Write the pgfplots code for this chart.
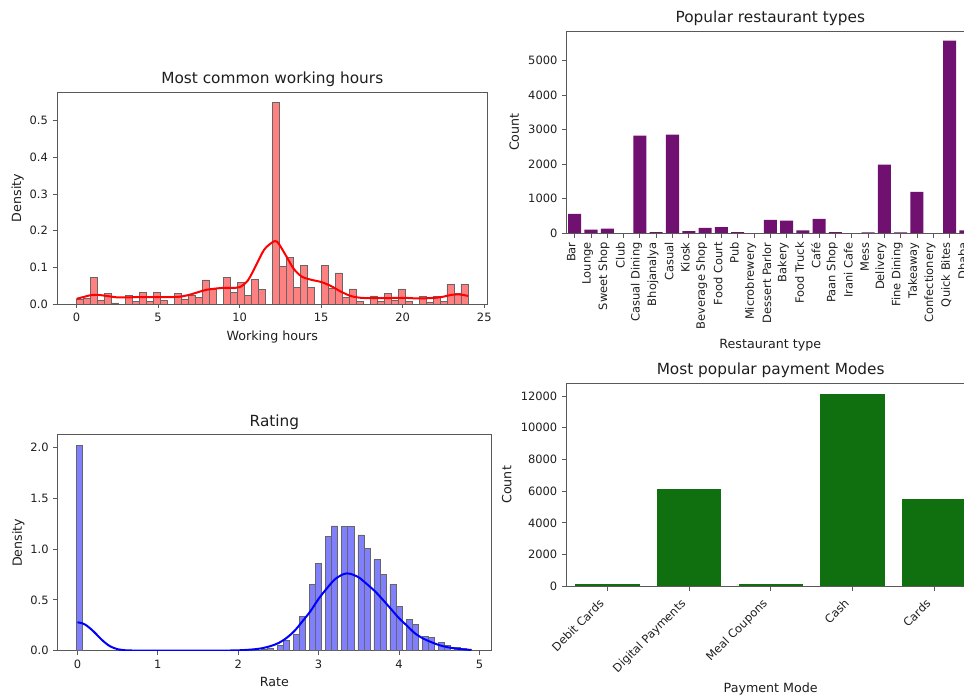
\documentclass[border=0pt]{standalone}
\usepackage{fontspec}
\setmainfont{DejaVu Sans}
\usepackage{pgfplots}
\pgfplotsset{compat=1.18}
\definecolor{mplpurple}{RGB}{112,16,112}
\definecolor{mplgreen}{RGB}{16,112,16}
\definecolor{txt}{RGB}{30,30,30}
\pgfplotsset{
  myaxis/.style={
    scale only axis,
    axis line style={draw=black!65, line width=0.6pt},
    tick align=outside,
    tick pos=left,
    major tick length=3.3pt,
    tick style={draw=black!65, line width=0.6pt},
    every tick label/.append style={font=\fontsize{8.6}{10}\selectfont, text=txt},
    label style={font=\fontsize{9.5}{11}\selectfont, text=txt},
    title style={font=\fontsize{11.5}{13}\selectfont, text=txt, yshift=-5.5pt},
    /pgf/number format/assume math mode=true,
    clip=true,
  }
}
\begin{document}
\begin{tikzpicture}
% ---------------- Working hours ----------------
\begin{axis}[myaxis, at={(42.75pt,293.25pt)}, anchor=south west,
  width=322.9pt, height=159pt,
  xmin=-1.2, xmax=25.2, ymin=0, ymax=0.5786,
  xtick={0,5,10,15,20,25}, ytick={0,0.1,0.2,0.3,0.4,0.5},
  yticklabel style={/pgf/number format/.cd, fixed, fixed zerofill, precision=1},
  title={Most common working hours}, xlabel={Working hours}, ylabel={Density},
  ylabel style={yshift=-2.5pt}]
\addplot[ybar, bar width=0.4286, bar shift=0pt, fill=red!50, draw=black!60, line width=0.4pt] table {
x y
0.2143 0.012
0.6429 0.015
1.0714 0.072
1.5000 0.009
1.9286 0.029
2.3571 0.003
3.2143 0.024
3.6429 0.007
4.0714 0.031
4.5000 0.008
4.9286 0.032
5.3571 0.010
6.2143 0.029
6.6429 0.014
7.0714 0.024
7.5000 0.019
7.9286 0.066
8.3571 0.041
9.2143 0.072
9.6429 0.032
10.0714 0.058
10.5000 0.023
10.9286 0.067
11.3571 0.040
12.2143 0.551
12.6429 0.102
13.0714 0.127
13.5000 0.046
13.9286 0.105
14.3571 0.046
15.2143 0.105
15.6429 0.043
16.0714 0.085
16.5000 0.019
16.9286 0.041
17.3571 0.007
18.2143 0.022
18.6429 0.007
19.0714 0.029
19.5000 0.010
19.9286 0.041
20.3571 0.007
21.2143 0.021
21.6429 0.006
22.0714 0.021
22.5000 0.008
22.9286 0.054
23.3571 0.028
23.7857 0.054
};
\addplot[red, line width=1.5pt, smooth] table {
x y
0.0 0.014
0.5 0.020
1.0 0.025
1.5 0.024
2.0 0.021
2.5 0.018
3.0 0.018
4.0 0.019
5.0 0.019
6.0 0.019
6.5 0.021
7.0 0.026
7.5 0.033
8.0 0.039
8.5 0.042
9.0 0.044
9.5 0.044
10.0 0.046
10.5 0.064
11.0 0.105
11.5 0.148
12.0 0.168
12.3 0.170
12.8 0.135
13.3 0.097
13.8 0.075
14.4 0.066
15.0 0.060
15.6 0.049
16.2 0.034
16.8 0.022
17.4 0.017
18.0 0.016
19.0 0.016
20.0 0.017
21.0 0.015
22.0 0.017
22.5 0.020
23.0 0.025
23.5 0.026
24.0 0.022
};
\end{axis}
% ---------------- Restaurant types ----------------
\begin{axis}[myaxis, at={(424.9pt,346.3pt)}, anchor=south west,
  width=305.6pt, height=151.7pt, axis on top,
  xmin=-0.5, xmax=24.5, ymin=0, ymax=5859,
  xtick={0,1,2,3,4,5,6,7,8,9,10,11,12,13,14,15,16,17,18,19,20,21,22,23,24},
  xticklabels={Bar,Lounge,Sweet Shop,Club,Casual Dining,Bhojanalya,Casual,Kiosk,Beverage Shop,Food Court,Pub,Microbrewery,Dessert Parlor,Bakery,Food Truck,Café,Paan Shop,Irani Cafe,Mess,Delivery,Fine Dining,Takeaway,Confectionery,Quick Bites,Dhaba},
  xticklabel style={rotate=90, anchor=east, yshift=2.5pt},
  ytick={0,1000,2000,3000,4000,5000},
  yticklabel style={/pgf/number format/1000 sep={}}, scaled y ticks=false,
  title={Popular restaurant types}, xlabel={Restaurant type}, ylabel={Count}]
\addplot[ybar, bar width=0.8, bar shift=0pt, fill=mplpurple, draw=none] table {
x y
0 560
1 105
2 135
3 3
4 2826
5 30
6 2855
7 65
8 155
9 180
10 30
11 3
12 385
13 365
14 85
15 414
16 30
17 3
18 25
19 1986
20 25
21 1196
22 3
23 5580
24 80
};
\end{axis}
% ---------------- Rating ----------------
\begin{axis}[myaxis, at={(43.3pt,33.2pt)}, anchor=south west,
  width=325pt, height=162pt,
  xmin=-0.245, xmax=5.145, ymin=0, ymax=2.122,
  xtick={0,1,2,3,4,5}, ytick={0,0.5,1,1.5,2},
  yticklabel style={/pgf/number format/.cd, fixed, fixed zerofill, precision=1},
  title={Rating}, xlabel={Rate}, ylabel={Density},
  ylabel style={yshift=-2.5pt}]
\addplot[ybar, bar width=0.075, bar shift=0pt, fill=blue!50, draw=black!60, line width=0.4pt] table {
x y
0.025 2.021
2.325 0.010
2.400 0.020
2.525 0.056
2.600 0.098
2.725 0.164
2.800 0.341
2.925 0.652
3.000 0.859
3.125 1.121
3.200 1.226
3.325 1.220
3.400 1.220
3.525 1.138
3.600 1.007
3.725 0.898
3.800 0.751
3.925 0.652
4.000 0.433
4.125 0.308
4.200 0.259
4.325 0.144
4.400 0.131
4.525 0.079
4.600 0.056
4.725 0.030
4.800 0.023
4.865 0.012
};
\addplot[blue, line width=1.5pt, smooth] table {
x y
0.00 0.279
0.05 0.272
0.10 0.255
0.15 0.225
0.20 0.190
0.25 0.150
0.30 0.110
0.35 0.075
0.40 0.047
0.45 0.028
0.50 0.015
0.60 0.004
0.80 0.001
1.00 0.000
1.50 0.000
1.80 0.001
2.00 0.004
2.10 0.008
2.20 0.014
2.30 0.025
2.40 0.045
2.50 0.075
2.60 0.125
2.70 0.195
2.80 0.290
2.90 0.390
3.00 0.510
3.10 0.610
3.20 0.700
3.30 0.750
3.35 0.760
3.40 0.755
3.50 0.720
3.60 0.655
3.70 0.585
3.80 0.500
3.90 0.410
4.00 0.320
4.10 0.245
4.20 0.170
4.30 0.120
4.40 0.085
4.50 0.055
4.60 0.035
4.70 0.022
4.80 0.013
4.90 0.008
};
\end{axis}
% ---------------- Payment modes ----------------
\begin{axis}[myaxis, at={(424.8pt,81.5pt)}, anchor=south west,
  width=306.4pt, height=152.25pt, axis on top,
  xmin=-0.5, xmax=4.5, ymin=0, ymax=12800,
  xtick={0,1,2,3,4},
  xticklabels={Debit Cards,Digital Payments,Meal Coupons,Cash,Cards},
  xticklabel style={rotate=45, anchor=north east, xshift=-5.2pt, yshift=4.2pt},
  ytick={0,2000,4000,6000,8000,10000,12000},
  yticklabel style={/pgf/number format/1000 sep={}}, scaled y ticks=false,
  title={Most popular payment Modes}, xlabel={Payment Mode}, ylabel={Count},
  xlabel style={yshift=2pt}]
\addplot[ybar, bar width=0.8, bar shift=0pt, fill=mplgreen, draw=white, line width=0.3pt] table {
x y
0 180
1 6200
2 170
3 12190
4 5560
};
\end{axis}
\pgfresetboundingbox
\useasboundingbox (0,0) rectangle (723pt,521.25pt);
\end{tikzpicture}
\end{document}
